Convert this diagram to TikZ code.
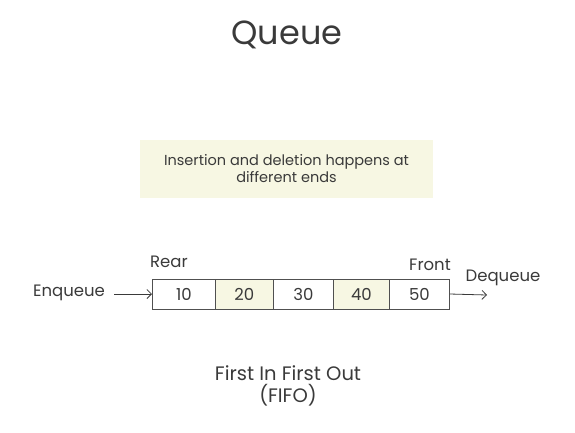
\documentclass[tikz,border=0pt]{standalone}
\usepackage{fontspec}
\setmainfont{Poppins}
\usetikzlibrary{arrows.meta,positioning}
\definecolor{ink}{HTML}{3A3A3A}
\definecolor{cream}{HTML}{F7F7E3}
\definecolor{edge}{HTML}{505050}

\begin{document}
\begin{tikzpicture}[x=1pt,y=-1pt,font=\fontsize{16.5}{20}\selectfont,text=ink,
  cell/.style={draw=edge,line width=0.8pt,minimum height=30pt,inner sep=0pt,anchor=west},
  arr/.style={-{Straight Barb[length=4.5pt,width=9pt]},draw=ink,line width=0.8pt}]
  \useasboundingbox (0,0) rectangle (575,432);
  \node[font=\fontsize{33.5}{40}\selectfont] (title) at (287,35) {Queue};
  \node[fill=cream,minimum width=293pt,minimum height=58pt,align=center,
    font=\fontsize{14.5}{17}\selectfont] (note) at (286.5,169)
    {Insertion and deletion happens at\\different ends};
  % queue cells
  \foreach \i/\val/\xa/\w/\bg in {1/10/152/63/white,2/20/215/58/cream,
      3/30/273/60/white,4/40/333/56/cream,5/50/389/60/white}
    \node[cell,fill=\bg,minimum width=\w] (c\i) at (\xa,294) {\val};
  \node (rear) at (169,262) {Rear};
  \node (front) at (430,265) {Front};
  \node (enq) at (69,293) {Enqueue};
  \draw[arr] ([xshift=6pt]enq.east |- c1.west) -- (c1.west);
  \coordinate (deq) at (487,295);
  \draw[arr] (c5.east) -- (deq);
  \node (deqlbl) at (503,278) {Dequeue};
  \node[align=center,font=\fontsize{19.5}{22}\selectfont] (fifo) at (288,386)
    {First In First Out\\(FIFO)};
\end{tikzpicture}
\end{document}
